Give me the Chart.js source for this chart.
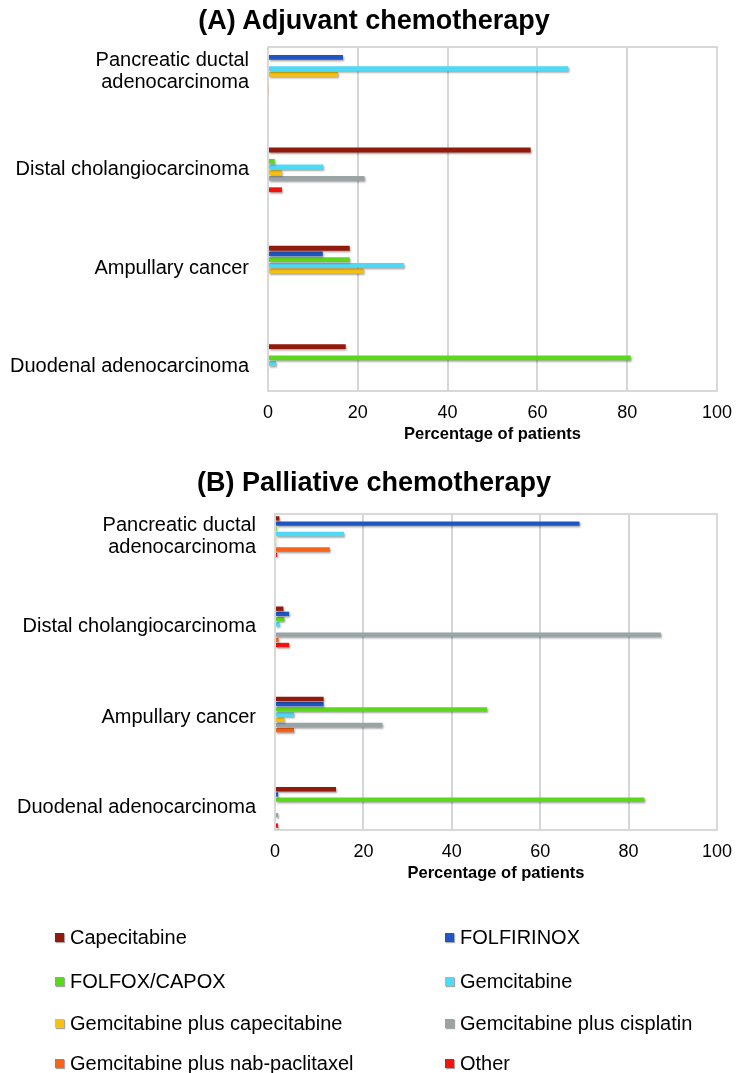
<!DOCTYPE html>
<html>
<head>
<meta charset="utf-8">
<script src="https://cdn.jsdelivr.net/npm/chart.js@4/dist/chart.umd.min.js"></script>
<style>
  html, body { margin: 0; padding: 0; background: #fff; }
  body { width: 743px; height: 1073px; position: relative; overflow: hidden;
         font-family: "Liberation Sans", Arial, sans-serif; }
  canvas { position: absolute; left: 0; }
  #chartA { top: 0; }
  #chartB { top: 440px; }
  .panel-title { position: absolute; left: 0; width: 748px; text-align: center;
                 font-size: 27px; font-weight: bold; line-height: 32px; color: #000; white-space: nowrap; }
  #titleA { top: 4px; }
  #titleB { top: 466px; }
  #legend { position: absolute; left: 0; top: 0; width: 743px; height: 1073px; pointer-events: none; }
  .item { position: absolute; font-size: 20px; color: #000; line-height: 24px; white-space: nowrap; }
  .swatch { position: absolute; width: 9px; height: 9px; left: -15px; top: 8px;
            box-shadow: 1px 1px 1px rgba(0,0,0,0.35); }
</style>
</head>
<body>
<canvas id="chartA" width="743" height="444"></canvas>
<canvas id="chartB" width="743" height="443"></canvas>
<div class="panel-title" id="titleA"></div>
<div class="panel-title" id="titleB"></div>
<div id="legend"></div>
<script>
// Tumour types, in the order they are listed down each panel
const categories = [
  ["Pancreatic ductal", "adenocarcinoma"],
  "Distal cholangiocarcinoma",
  "Ampullary cancer",
  "Duodenal adenocarcinoma"
];

// Chemotherapy regimens (one bar per regimen in every group)
const regimens = [
  "Capecitabine",
  "FOLFIRINOX",
  "FOLFOX/CAPOX",
  "Gemcitabine",
  "Gemcitabine plus capecitabine",
  "Gemcitabine plus cisplatin",
  "Gemcitabine plus nab-paclitaxel",
  "Other"
];

const xTicks = [0, 20, 40, 60, 80, 100];

// (A) Adjuvant chemotherapy, % of patients per tumour type
const adjCapecitabine   = [0,    58.5, 18.2, 17.3];
const adjFolfirinox     = [16.7, 0,    12.2, 0];
const adjFolfoxCapox    = [0,    1.5,  18.2, 80.8];
const adjGemcitabine    = [66.9, 12.3, 30.3, 1.8];
const adjGemCape        = [15.6, 3.1,  21.3, 0];
const adjGemCisplatin   = [0,    21.5, 0,    0];
const adjGemNab         = [0.2,  0,    0,    0];
const adjOther          = [0.2,  3.1,  0,    0];

// (B) Palliative chemotherapy, % of patients per tumour type
const palCapecitabine   = [1.0,  1.9,  11.0, 13.8];
const palFolfirinox     = [68.9, 3.2,  11.0, 0.7];
const palFolfoxCapox    = [0.4,  2.1,  48.0, 83.6];
const palGemcitabine    = [15.6, 1.0,  4.3,  0];
const palGemCape        = [0.3,  0,    2.1,  0];
const palGemCisplatin   = [0.3,  87.3, 24.3, 0.7];
const palGemNab         = [12.4, 0.8,  4.3,  0];
const palOther          = [0.5,  3.2,  0,    0.7];

const regimenColors = ["#921a0d", "#1f56c4", "#5cd81c", "#4fd9f4",
                       "#f8c10e", "#9aa4a4", "#f96319", "#f2130f"];

const FONT = '"Liberation Sans", Arial, sans-serif';

// light grey box round the plotting area, and a soft drop shadow under the bars
const framePlugin = {
  id: 'frame',
  beforeDatasetsDraw(chart) {
    const { ctx, chartArea: a } = chart;
    ctx.save();
    ctx.strokeStyle = '#d7d9d9';
    ctx.lineWidth = 2;
    ctx.strokeRect(a.left, a.top, a.right - a.left, a.bottom - a.top);
    ctx.restore();
    ctx.save();
    ctx.shadowColor = 'rgba(0,0,0,0.35)';
    ctx.shadowBlur = 2;
    ctx.shadowOffsetX = 1;
    ctx.shadowOffsetY = 1.5;
  },
  afterDatasetsDraw(chart) {
    chart.ctx.restore();
  }
};

function makePanel(canvasId, titleId, titleText, seriesList, geo) {
  document.getElementById(titleId).textContent = titleText;

  const datasets = seriesList.map((values, k) => ({
    label: regimens[k],
    data: values.map((v, i) => ({ x: v, y: i })),
    backgroundColor: regimenColors[k],
    borderWidth: 0,
    categoryPercentage: geo.catPct,
    barPercentage: 0.85
  }));

  return new Chart(document.getElementById(canvasId), {
    type: 'bar',
    data: { datasets },
    plugins: [framePlugin],
    options: {
      indexAxis: 'y',
      responsive: false,
      animation: false,
      events: [],
      layout: { padding: { left: 0, right: geo.right, top: geo.top, bottom: 0 } },
      plugins: {
        legend: { display: false },
        tooltip: { enabled: false },
        title: { display: false }
      },
      scales: {
        x: {
          type: 'linear',
          min: 0,
          max: 100,
          afterBuildTicks: s => { s.ticks = xTicks.map(v => ({ value: v })); },
          afterFit: s => { s.height = geo.xAxisHeight; },
          ticks: { color: '#000', padding: 11, font: { family: FONT, size: 18 } },
          grid: { color: '#d5d7d7', lineWidth: 2, drawTicks: false },
          border: { display: false },
          title: {
            display: true,
            text: 'Percentage of patients',
            color: '#000',
            font: { family: FONT, size: 16.5, weight: 'bold', lineHeight: 1.2 },
            padding: { top: 0, bottom: 0 }
          }
        },
        y: {
          type: 'linear',
          reverse: true,
          offset: false,
          min: -0.25,
          max: 3.25,
          afterBuildTicks: s => { s.ticks = categories.map((c, i) => ({ value: i })); },
          afterFit: s => { s.width = geo.left; },
          ticks: {
            color: '#000',
            padding: 19,
            autoSkip: false,
            font: { family: FONT, size: 20, lineHeight: 1.08 },
            callback: v => categories[v]
          },
          grid: { display: false, drawTicks: false },
          border: { display: false }
        }
      }
    }
  });
}

makePanel('chartA', 'titleA', '(A) Adjuvant chemotherapy',
  [adjCapecitabine, adjFolfirinox, adjFolfoxCapox, adjGemcitabine,
   adjGemCape, adjGemCisplatin, adjGemNab, adjOther],
  { left: 268, right: 22, top: 47, xAxisHeight: 53, catPct: 0.4625 });

makePanel('chartB', 'titleB', '(B) Palliative chemotherapy',
  [palCapecitabine, palFolfirinox, palFolfoxCapox, palGemcitabine,
   palGemCape, palGemCisplatin, palGemNab, palOther],
  { left: 275, right: 17, top: 74, xAxisHeight: 53, catPct: 0.46 });

// two-column legend under the panels
const legend = document.getElementById('legend');
const rowY = [925, 969, 1011, 1051];
const colX = [70, 460];
regimens.forEach((name, k) => {
  const item = document.createElement('div');
  item.className = 'item';
  item.style.left = colX[k % 2] + 'px';
  item.style.top = rowY[Math.floor(k / 2)] + 'px';
  const sw = document.createElement('span');
  sw.className = 'swatch';
  sw.style.background = regimenColors[k];
  item.appendChild(sw);
  item.appendChild(document.createTextNode(name));
  legend.appendChild(item);
});
</script>
</body>
</html>
